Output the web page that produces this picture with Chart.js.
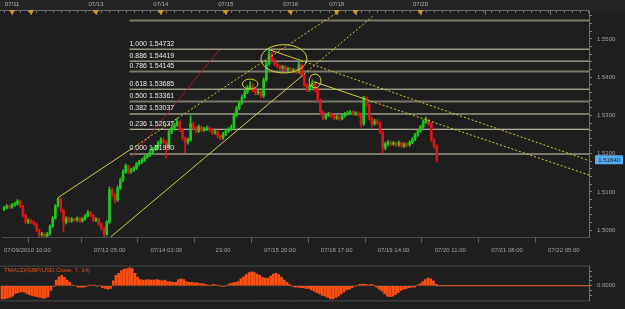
<!DOCTYPE html>
<html>
<head>
<meta charset="utf-8">
<script src="https://cdn.jsdelivr.net/npm/chart.js@4.4.1/dist/chart.umd.min.js"></script>
<style>
  html, body { margin: 0; padding: 0; background: #1e1e1e; }
  canvas { display: block; }
</style>
</head>
<body>
<canvas id="priceChart" width="625" height="258"></canvas>
<canvas id="tmacdChart" width="625" height="51"></canvas>
<script>
// GBP/USD, 1 hour bars from 07/09/2010 10:00 (bar index = position on the x axis)
const opens = [
  1.5055, 1.5058, 1.5063, 1.5060, 1.5066, 1.5068, 1.5076, 1.5063, 1.5039, 1.5021,
  1.5026, 1.5021, 1.5016, 1.5000, 1.4987, 1.4990, 1.4984, 1.4990, 1.5010, 1.5031,
  1.5063, 1.5081, 1.5052, 1.5021, 1.5031, 1.5024, 1.5029, 1.5026, 1.5031, 1.5024,
  1.5029, 1.5037, 1.5047, 1.5039, 1.5026, 1.5029, 1.5016, 1.5005, 1.4990, 1.5021,
  1.5105, 1.5092, 1.5079, 1.5110, 1.5131, 1.5152, 1.5168, 1.5152, 1.5157, 1.5162,
  1.5173, 1.5178, 1.5183, 1.5191, 1.5196, 1.5204, 1.5212, 1.5217, 1.5228, 1.5236,
  1.5230, 1.5220, 1.5257, 1.5267, 1.5275, 1.5283, 1.5262, 1.5241, 1.5230, 1.5236,
  1.5278, 1.5267, 1.5259, 1.5270, 1.5262, 1.5264, 1.5267, 1.5262, 1.5254, 1.5257,
  1.5246, 1.5241, 1.5251, 1.5259, 1.5264, 1.5270, 1.5301, 1.5319, 1.5333, 1.5348,
  1.5361, 1.5372, 1.5377, 1.5367, 1.5359, 1.5361, 1.5351, 1.5393, 1.5435, 1.5461,
  1.5445, 1.5435, 1.5429, 1.5424, 1.5427, 1.5419, 1.5422, 1.5416, 1.5419, 1.5414,
  1.5432, 1.5406, 1.5380, 1.5367, 1.5377, 1.5385, 1.5367, 1.5340, 1.5309, 1.5293,
  1.5301, 1.5304, 1.5299, 1.5293, 1.5296, 1.5291, 1.5299, 1.5304, 1.5306, 1.5309,
  1.5304, 1.5306, 1.5301, 1.5278, 1.5346, 1.5327, 1.5293, 1.5278, 1.5285, 1.5280,
  1.5257, 1.5215, 1.5225, 1.5230, 1.5225, 1.5228, 1.5223, 1.5228, 1.5220, 1.5225,
  1.5223, 1.5230, 1.5238, 1.5249, 1.5259, 1.5270, 1.5283, 1.5288, 1.5278, 1.5236,
  1.5220
];
const highs = [
  1.5062, 1.5067, 1.5066, 1.5070, 1.5073, 1.5080, 1.5078, 1.5065, 1.5042, 1.5030,
  1.5029, 1.5024, 1.5019, 1.5003, 1.4994, 1.4993, 1.4994, 1.5014, 1.5035, 1.5067,
  1.5085, 1.5083, 1.5054, 1.5035, 1.5034, 1.5033, 1.5032, 1.5035, 1.5034, 1.5033,
  1.5041, 1.5051, 1.5049, 1.5041, 1.5033, 1.5031, 1.5019, 1.5008, 1.5025, 1.5113,
  1.5110, 1.5095, 1.5115, 1.5136, 1.5158, 1.5173, 1.5170, 1.5162, 1.5166, 1.5177,
  1.5183, 1.5188, 1.5195, 1.5201, 1.5209, 1.5217, 1.5222, 1.5233, 1.5242, 1.5240,
  1.5233, 1.5262, 1.5272, 1.5280, 1.5293, 1.5286, 1.5265, 1.5244, 1.5241, 1.5299,
  1.5282, 1.5270, 1.5275, 1.5273, 1.5269, 1.5272, 1.5270, 1.5265, 1.5262, 1.5260,
  1.5249, 1.5256, 1.5263, 1.5268, 1.5275, 1.5306, 1.5324, 1.5338, 1.5353, 1.5366,
  1.5378, 1.5388, 1.5382, 1.5370, 1.5366, 1.5364, 1.5398, 1.5440, 1.5472, 1.5465,
  1.5448, 1.5438, 1.5432, 1.5431, 1.5430, 1.5426, 1.5425, 1.5423, 1.5422, 1.5440,
  1.5435, 1.5409, 1.5383, 1.5381, 1.5393, 1.5388, 1.5370, 1.5343, 1.5312, 1.5305,
  1.5308, 1.5307, 1.5302, 1.5300, 1.5299, 1.5303, 1.5308, 1.5311, 1.5313, 1.5312,
  1.5310, 1.5309, 1.5304, 1.5350, 1.5349, 1.5330, 1.5296, 1.5290, 1.5289, 1.5283,
  1.5260, 1.5230, 1.5235, 1.5233, 1.5232, 1.5231, 1.5233, 1.5231, 1.5229, 1.5228,
  1.5234, 1.5242, 1.5253, 1.5263, 1.5274, 1.5288, 1.5296, 1.5291, 1.5281, 1.5240,
  1.5223
];
const lows = [
  1.5051, 1.5055, 1.5056, 1.5057, 1.5062, 1.5065, 1.5059, 1.5034, 1.5016, 1.5017,
  1.5017, 1.5012, 1.4996, 1.4983, 1.4984, 1.4982, 1.4981, 1.4987, 1.5007, 1.5028,
  1.5060, 1.5047, 1.4995, 1.5016, 1.5020, 1.5020, 1.5022, 1.5023, 1.5020, 1.5021,
  1.5026, 1.5034, 1.5035, 1.5022, 1.5022, 1.5012, 1.5000, 1.4982, 1.4986, 1.5018,
  1.5087, 1.5070, 1.5075, 1.5106, 1.5127, 1.5148, 1.5147, 1.5148, 1.5153, 1.5158,
  1.5169, 1.5174, 1.5179, 1.5187, 1.5192, 1.5200, 1.5208, 1.5213, 1.5224, 1.5226,
  1.5189, 1.5215, 1.5252, 1.5262, 1.5271, 1.5257, 1.5236, 1.5202, 1.5225, 1.5232,
  1.5262, 1.5254, 1.5255, 1.5257, 1.5258, 1.5260, 1.5257, 1.5250, 1.5250, 1.5241,
  1.5236, 1.5237, 1.5247, 1.5255, 1.5260, 1.5266, 1.5297, 1.5315, 1.5329, 1.5344,
  1.5357, 1.5368, 1.5362, 1.5353, 1.5354, 1.5346, 1.5347, 1.5389, 1.5431, 1.5440,
  1.5430, 1.5424, 1.5419, 1.5420, 1.5414, 1.5415, 1.5412, 1.5412, 1.5409, 1.5410,
  1.5401, 1.5375, 1.5362, 1.5363, 1.5373, 1.5362, 1.5335, 1.5304, 1.5288, 1.5289,
  1.5297, 1.5294, 1.5289, 1.5289, 1.5287, 1.5288, 1.5295, 1.5300, 1.5302, 1.5300,
  1.5300, 1.5297, 1.5270, 1.5274, 1.5322, 1.5288, 1.5270, 1.5274, 1.5276, 1.5252,
  1.5202, 1.5210, 1.5220, 1.5220, 1.5221, 1.5218, 1.5219, 1.5216, 1.5216, 1.5218,
  1.5219, 1.5226, 1.5234, 1.5245, 1.5255, 1.5266, 1.5279, 1.5273, 1.5231, 1.5214,
  1.5178
];
const closes = [
  1.5058, 1.5063, 1.5060, 1.5066, 1.5068, 1.5076, 1.5063, 1.5039, 1.5021, 1.5026,
  1.5021, 1.5016, 1.5000, 1.4987, 1.4990, 1.4984, 1.4990, 1.5010, 1.5031, 1.5063,
  1.5081, 1.5052, 1.5021, 1.5031, 1.5024, 1.5029, 1.5026, 1.5031, 1.5024, 1.5029,
  1.5037, 1.5047, 1.5039, 1.5026, 1.5029, 1.5016, 1.5005, 1.4990, 1.5021, 1.5105,
  1.5092, 1.5079, 1.5110, 1.5131, 1.5152, 1.5168, 1.5152, 1.5157, 1.5162, 1.5173,
  1.5178, 1.5183, 1.5191, 1.5196, 1.5204, 1.5212, 1.5217, 1.5228, 1.5236, 1.5230,
  1.5220, 1.5257, 1.5267, 1.5275, 1.5283, 1.5262, 1.5241, 1.5230, 1.5236, 1.5278,
  1.5267, 1.5259, 1.5270, 1.5262, 1.5264, 1.5267, 1.5262, 1.5254, 1.5257, 1.5246,
  1.5241, 1.5251, 1.5259, 1.5264, 1.5270, 1.5301, 1.5319, 1.5333, 1.5348, 1.5361,
  1.5372, 1.5377, 1.5367, 1.5359, 1.5361, 1.5351, 1.5393, 1.5435, 1.5461, 1.5445,
  1.5435, 1.5429, 1.5424, 1.5427, 1.5419, 1.5422, 1.5416, 1.5419, 1.5414, 1.5432,
  1.5406, 1.5380, 1.5367, 1.5377, 1.5385, 1.5367, 1.5340, 1.5309, 1.5293, 1.5301,
  1.5304, 1.5299, 1.5293, 1.5296, 1.5291, 1.5299, 1.5304, 1.5306, 1.5309, 1.5304,
  1.5306, 1.5301, 1.5278, 1.5346, 1.5327, 1.5293, 1.5278, 1.5285, 1.5280, 1.5257,
  1.5215, 1.5225, 1.5230, 1.5225, 1.5228, 1.5223, 1.5228, 1.5220, 1.5225, 1.5223,
  1.5230, 1.5238, 1.5249, 1.5259, 1.5270, 1.5283, 1.5288, 1.5278, 1.5236, 1.5220,
  1.5184
];

// TMACD(GBP/USD.Close, 7, 14) histogram
const tmacd = [
  -0.0019, -0.0019, -0.0018, -0.0017, -0.0015, -0.0011, -0.0010, -0.0009, -0.0009, -0.0011,
  -0.0013, -0.0014, -0.0015, -0.0016, -0.0017, -0.0018, -0.0018, -0.0016, -0.0007, -0.0001,
  0.0008, 0.0013, 0.0015, 0.0012, 0.0008, 0.0005, 0.0001, 0.0000, -0.0002, -0.0002,
  -0.0002, -0.0001, 0.0001, 0.0000, 0.0001, -0.0001, 0.0000, -0.0003, -0.0004, -0.0005,
  -0.0004, 0.0007, 0.0015, 0.0018, 0.0022, 0.0024, 0.0025, 0.0026, 0.0025, 0.0018,
  0.0012, 0.0009, 0.0008, 0.0008, 0.0009, 0.0008, 0.0008, 0.0009, 0.0008, 0.0007,
  0.0008, 0.0006, 0.0006, 0.0005, 0.0005, 0.0009, 0.0010, 0.0009, 0.0006, 0.0005,
  0.0005, 0.0004, 0.0004, 0.0003, 0.0003, 0.0002, 0.0001, 0.0001, 0.0002, 0.0001,
  0.0001, -0.0001, -0.0001, 0.0001, 0.0003, 0.0004, 0.0005, 0.0006, 0.0010, 0.0013,
  0.0016, 0.0019, 0.0020, 0.0019, 0.0017, 0.0015, 0.0012, 0.0011, 0.0011, 0.0014,
  0.0017, 0.0018, 0.0016, 0.0012, 0.0008, 0.0005, 0.0002, -0.0001, -0.0002, -0.0002,
  -0.0003, -0.0003, -0.0004, -0.0004, -0.0006, -0.0008, -0.0010, -0.0012, -0.0014, -0.0015,
  -0.0017, -0.0019, -0.0019, -0.0017, -0.0015, -0.0012, -0.0009, -0.0006, -0.0005, -0.0003,
  -0.0001, 0.0001, 0.0002, 0.0002, 0.0002, 0.0001, 0.0002, 0.0001, -0.0002, -0.0005,
  -0.0008, -0.0012, -0.0015, -0.0016, -0.0015, -0.0013, -0.0010, -0.0007, -0.0005, -0.0004,
  -0.0003, -0.0002, -0.0002, 0.0001, 0.0003, 0.0006, 0.0009, 0.0011, 0.0010, 0.0007,
  0.0002
];

// Fibonacci retracement
const fibRatios = ['1.000', '0.886', '0.786', '0.618', '0.500', '0.382', '0.236', '0.000'];
const fibPrices = [1.54732, 1.54419, 1.54145, 1.53685, 1.53361, 1.53037, 1.52637, 1.51990];
const fibStartBar = 46.4;
const extraLevel = 1.5548;

// trend lines: [bar, price] pairs
const upperChannel = [[20, 1.5085], [47, 1.5212]];
const upperChannelExt = [[47, 1.5212], [123, 1.5568]];
const lowerChannel = [[39.4, 1.4982], [109.8, 1.5401]];
const lowerChannelExt = [[109.8, 1.5401], [136.3, 1.5559]];
const redLine = [[47.2, 1.5191], [79.6, 1.5471]];
const topLine = [[98, 1.5472], [110, 1.5443]];
const topLineExt = [[110, 1.5443], [216.3, 1.5182]];
const secondLine = [[114.6, 1.5388], [133, 1.5344]];
const secondLineExt = [[133, 1.5344], [216.3, 1.5144]];
// ellipses: [bar, price, radius in bars, radius in price]
const ellipses = [[103.5, 1.5448, 8.5, 0.0037], [91, 1.5382, 2.9, 0.0013], [115, 1.5390, 2.2, 0.0018]];

// axes
const bottomTickBars = [0, 18, 39, 60, 81, 102, 123, 144, 165, 186, 207];
const bottomTickLabels = ['07/09/2010 10:00', '', '07/13 05:00', '07/14 02:00', '23:00', '07/15 20:00',
  '07/18 17:00', '07/19 14:00', '07/20 11:00', '07/21 08:00', '07/22 05:00'];
const dayBars = [3, 10, 34, 58, 82, 106, 123, 130, 154, 178, 202];
const dayLabels = ['07/11', '', '07/13', '07/14', '07/15', '07/16', '07/18', '', '07/20', '', ''];
const markerBars = [3, 10, 34, 58, 82, 106, 123, 130, 154];
const priceLabels = [1.5000, 1.5100, 1.5200, 1.5300, 1.5400, 1.5500];
const tmacdLabels = [0];

const X_MIN = -0.74, X_MAX = 216.3;
const Y_MIN = 1.4982, Y_MAX = 1.5573;
const BG = '#1e1e1e';
const UP = '#1ec81e', DOWN = '#dc1616';
const YELLOW = '#d4d03c';

Chart.defaults.font.family = "'Liberation Sans', Arial, sans-serif";
Chart.defaults.font.size = 6;

const pts = arr => arr.map(([x, y]) => ({ x, y }));
const candleColor = c => closes[c.dataIndex] >= opens[c.dataIndex] ? UP : DOWN;

function lineSet(points, color, dashed, width, order) {
    return {
        type: 'line', data: pts(points), borderColor: color, borderWidth: width || 1,
        borderDash: dashed ? [2, 2] : [], pointRadius: 0, fill: false, tension: 0, order: order || 0
    };
}

const grayFib = new Set(['0.786', '0.500']);
const levelSets = fibPrices.map((p, i) => lineSet([[fibStartBar, p], [X_MAX, p]],
    grayFib.has(fibRatios[i]) ? '#7c786a' : '#d9d5bd', false, grayFib.has(fibRatios[i]) ? 2 : 1, 5));
levelSets.push(lineSet([[fibStartBar, extraLevel], [X_MAX, extraLevel]], '#7c786a', false, 2, 5));

const mainOverlay = {
    id: 'mainOverlay',
    beforeDraw(chart) {
        const { ctx, chartArea: a } = chart;
        ctx.save();
        ctx.fillStyle = BG;
        ctx.fillRect(0, 0, chart.width, chart.height);
        ctx.fillStyle = '#242424';
        ctx.fillRect(0, 0, chart.width, a.top);
        ctx.restore();
    },
    afterDatasetsDraw(chart) {
        const { ctx } = chart;
        const xs = chart.scales.x, ys = chart.scales.y;
        ctx.save();
        // ellipses
        ctx.strokeStyle = '#d8d23c';
        ctx.lineWidth = 1;
        ellipses.forEach(([b, p, rb, rp]) => {
            const cx = xs.getPixelForValue(b), cy = ys.getPixelForValue(p);
            const rx = xs.getPixelForValue(b + rb) - cx, ry = cy - ys.getPixelForValue(p + rp);
            ctx.beginPath();
            ctx.ellipse(cx, cy, rx, ry, 0, 0, Math.PI * 2);
            ctx.stroke();
        });
        // fib labels
        ctx.fillStyle = '#ececec';
        ctx.font = "7px 'Liberation Sans', Arial, sans-serif";
        ctx.textAlign = 'left';
        ctx.textBaseline = 'bottom';
        fibRatios.forEach((r, i) => {
            ctx.fillText(r + ' ' + fibPrices[i].toFixed(5), xs.getPixelForValue(fibStartBar), ys.getPixelForValue(fibPrices[i]) - 2);
        });
        ctx.restore();
    },
    afterDraw(chart) {
        const { ctx, chartArea: a } = chart;
        const xs = chart.scales.x, ys = chart.scales.y;
        ctx.save();
        // top time bar
        ctx.strokeStyle = '#6c6c6c';
        ctx.lineWidth = 1;
        ctx.beginPath();
        ctx.moveTo(0, a.top - 0.5);
        ctx.lineTo(a.right, a.top - 0.5);
        for (let b = 0; b <= X_MAX; b += 3) {
            const px = Math.round(xs.getPixelForValue(b)) + 0.5;
            ctx.moveTo(px, a.top);
            ctx.lineTo(px, a.top + 2);
        }
        dayBars.forEach(b => {
            const px = Math.round(xs.getPixelForValue(b)) + 0.5;
            ctx.moveTo(px, a.top);
            ctx.lineTo(px, a.top + 4);
        });
        ctx.stroke();
        ctx.fillStyle = '#d49c1c';
        markerBars.forEach(b => {
            const px = xs.getPixelForValue(b);
            ctx.beginPath();
            ctx.moveTo(px - 3, a.top - 1);
            ctx.lineTo(px + 3, a.top - 1);
            ctx.lineTo(px, a.top + 4);
            ctx.closePath();
            ctx.fill();
        });
        // first time label, left aligned
        ctx.fillStyle = '#a0a0a0';
        ctx.font = "6px 'Liberation Sans', Arial, sans-serif";
        ctx.textAlign = 'left';
        ctx.textBaseline = 'middle';
        ctx.fillText(bottomTickLabels[0], xs.getPixelForValue(bottomTickBars[0]), a.bottom + 13.5);
        // last price box
        const last = closes[closes.length - 1];
        const py = ys.getPixelForValue(last);
        ctx.fillStyle = '#55aef0';
        ctx.fillRect(a.right + 6, py - 4.5, 28, 9);
        ctx.fillStyle = '#0b1d3a';
        ctx.textAlign = 'center';
        ctx.fillText(last.toFixed(5), a.right + 20, py + 0.5);
        ctx.restore();
    }
};

new Chart(document.getElementById('priceChart'), {
    type: 'bar',
    data: {
        datasets: [
            lineSet(upperChannel, YELLOW, false, 1, 0),
            lineSet(upperChannelExt, YELLOW, true, 1, 0),
            lineSet(lowerChannel, YELLOW, false, 1, 0),
            lineSet(lowerChannelExt, YELLOW, true, 1, 0),
            lineSet(redLine, '#a81c1c', false, 1, 0),
            lineSet(topLine, YELLOW, false, 1, 0),
            lineSet(topLineExt, YELLOW, true, 1, 0),
            lineSet(secondLine, YELLOW, false, 1, 0),
            lineSet(secondLineExt, YELLOW, true, 1, 0),
            {
                label: 'body', data: closes.map((c, i) => ({ x: i, y: [opens[i], c] })),
                backgroundColor: candleColor, barThickness: 2, grouped: false, minBarLength: 1, order: 1
            },
            {
                label: 'wick', data: closes.map((c, i) => ({ x: i, y: [lows[i], highs[i]] })),
                backgroundColor: candleColor, barThickness: 1, grouped: false, order: 2
            },
            ...levelSets
        ]
    },
    options: {
        responsive: false,
        animation: false,
        events: [],
        layout: { padding: 0, autoPadding: false },
        plugins: { legend: { display: false }, tooltip: { enabled: false } },
        scales: {
            x: {
                type: 'linear', position: 'bottom', min: X_MIN, max: X_MAX, offset: false,
                afterFit: s => { s.height = 21; },
                afterBuildTicks: s => { s.ticks = bottomTickBars.map(v => ({ value: v })); },
                ticks: {
                    autoSkip: false, maxRotation: 0, padding: 4, color: '#a0a0a0',
                    callback: (v, i) => (i === 0 ? '' : bottomTickLabels[i])
                },
                grid: { drawOnChartArea: false, tickLength: 6, color: '#5c5c5c' },
                border: { color: '#4a4a4a' }
            },
            xTop: {
                type: 'linear', position: 'top', min: X_MIN, max: X_MAX, offset: false,
                afterFit: s => { s.height = 11; },
                afterBuildTicks: s => { s.ticks = dayBars.map(v => ({ value: v })); },
                ticks: { autoSkip: false, maxRotation: 0, padding: 3, color: '#b0b0b0', callback: (v, i) => dayLabels[i] },
                grid: { display: false, drawTicks: false },
                border: { display: false }
            },
            y: {
                position: 'right', min: Y_MIN, max: Y_MAX,
                afterFit: s => { s.width = 36; },
                afterBuildTicks: s => {
                    const t = [];
                    for (let v = 1.5; v <= 1.5561; v += 0.002) t.push({ value: v });
                    s.ticks = t;
                },
                ticks: {
                    autoSkip: false, padding: 5, color: '#a0a0a0',
                    callback: v => {
                        const hit = priceLabels.find(p => Math.abs(p - v) < 1e-6);
                        return hit !== undefined ? hit.toFixed(4) : '';
                    }
                },
                grid: { drawOnChartArea: false, tickLength: 3, color: '#808080' },
                border: { color: '#707070' }
            }
        }
    },
    plugins: [mainOverlay]
});

const panelOverlay = {
    id: 'panelOverlay',
    beforeDraw(chart) {
        const { ctx } = chart;
        ctx.save();
        ctx.fillStyle = BG;
        ctx.fillRect(0, 0, chart.width, chart.height);
        ctx.restore();
    },
    afterDraw(chart) {
        const { ctx, chartArea: a } = chart;
        ctx.save();
        ctx.strokeStyle = '#4a4a4a';
        ctx.lineWidth = 1;
        ctx.beginPath();
        ctx.moveTo(0, a.top - 0.5);
        ctx.lineTo(a.right, a.top - 0.5);
        ctx.moveTo(0, a.bottom + 0.5);
        ctx.lineTo(a.right, a.bottom + 0.5);
        ctx.stroke();
        ctx.fillStyle = '#e0501e';
        ctx.font = "6px 'Liberation Sans', Arial, sans-serif";
        ctx.textAlign = 'left';
        ctx.textBaseline = 'middle';
        ctx.fillText('TMACD(GBP/USD.Close, 7, 14)', 4, a.top + 4);
        ctx.restore();
    }
};

new Chart(document.getElementById('tmacdChart'), {
    type: 'bar',
    data: {
        datasets: [
            lineSet([[X_MIN, 0], [X_MAX, 0]], '#3e3e3e', false, 1, 3),
            {
                label: 'TMACD', data: tmacd.map((v, i) => ({ x: i, y: v })),
                backgroundColor: '#ff4e10', barThickness: 2, grouped: false, order: 1
            },
            lineSet([[tmacd.length - 1, 0], [X_MAX, 0]], '#e2561c', false, 1, 0)
        ]
    },
    options: {
        responsive: false,
        animation: false,
        events: [],
        layout: { padding: { top: 1, bottom: 1, left: 0, right: 0 }, autoPadding: false },
        plugins: { legend: { display: false }, tooltip: { enabled: false } },
        scales: {
            x: { type: 'linear', min: X_MIN, max: X_MAX, offset: false, display: false },
            y: {
                position: 'right', min: -0.00213, max: 0.00277,
                afterFit: s => { s.width = 36; },
                afterBuildTicks: s => { s.ticks = [-0.0014, -0.0007, 0, 0.0007, 0.0014, 0.0021].map(v => ({ value: v })); },
                ticks: {
                    autoSkip: false, padding: 5, color: '#a0a0a0',
                    callback: v => (tmacdLabels.includes(v) ? v.toFixed(4) : '')
                },
                grid: { drawOnChartArea: false, tickLength: 3, color: '#808080' },
                border: { color: '#707070' }
            }
        }
    },
    plugins: [panelOverlay]
});
</script>
</body>
</html>
